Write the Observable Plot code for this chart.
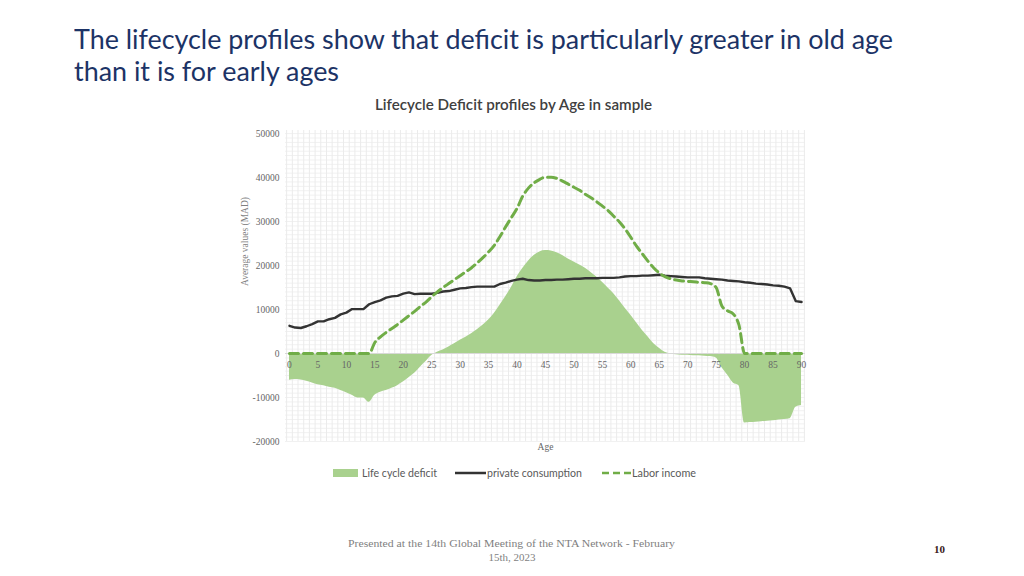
<!DOCTYPE html>
<html><head><meta charset="utf-8">
<script src="https://cdn.jsdelivr.net/npm/d3@7"></script>
<script src="https://cdn.jsdelivr.net/npm/@observablehq/plot@0.6"></script>
<style>
body{margin:0;width:1024px;height:576px;position:relative;background:#fff;overflow:hidden;font-family:Lato,"Open Sans",sans-serif}
.abs{position:absolute;white-space:nowrap;line-height:1}
#chart{position:absolute;left:230px;top:120px}
</style></head><body>
<div class="abs fit" data-w="819" style="left:74px;top:26px;font-size:26px;color:#1c3366">The lifecycle profiles show that deficit is particularly greater in old age</div>
<div class="abs fit" data-w="265" style="left:74px;top:58px;font-size:26px;color:#1c3366">than it is for early ages</div>
<div class="abs fit" data-w="277" style="left:375px;top:97px;font-size:15px;color:#404040;font-weight:600">Lifecycle Deficit profiles by Age in sample</div>
<div id="chart"></div>
<div class="abs" style="left:333px;top:469px;width:25px;height:8px;background:#a9d18e"></div>
<div class="abs fit" data-w="75" style="left:362px;top:467px;font-size:11px;color:#595959">Life cycle deficit</div>
<svg class="abs" style="left:455px;top:468px" width="32" height="10"><line x1="0" y1="5" x2="31" y2="5" stroke="#333" stroke-width="2.5"/></svg>
<div class="abs fit" data-w="95" style="left:487px;top:467px;font-size:11px;color:#595959">private consumption</div>
<svg class="abs" style="left:602px;top:468px" width="32" height="10"><line x1="0" y1="5" x2="30" y2="5" stroke="#70ad47" stroke-width="2.5" stroke-dasharray="7,4"/></svg>
<div class="abs fit" data-w="64" style="left:632px;top:467px;font-size:11px;color:#595959">Labor income</div>
<div class="abs fit" data-w="327" style="left:348px;top:538px;font-size:11px;color:#7f7f7f;font-family:'Liberation Serif',serif">Presented at the 14th Global Meeting of the NTA Network - February</div>
<div class="abs" style="left:0;width:1024px;text-align:center;top:552px;font-size:11px;color:#7f7f7f;font-family:'Liberation Serif',serif">15th, 2023</div>
<div class="abs" style="left:934px;top:544px;font-size:11px;color:#3a1a1a;font-weight:bold;font-family:'Liberation Serif',serif">10</div>
<script>
const ages = d3.range(0, 91);
const consumption = [6300,5900,5800,6200,6700,7300,7300,7800,8100,8900,9300,10100,10100,10100,11200,11700,12100,12700,13000,13100,13600,13900,13500,13600,13600,13600,13800,14100,14200,14500,14800,14900,15100,15200,15200,15200,15200,15800,16100,16500,16800,17000,16700,16600,16600,16700,16700,16800,16800,16900,17000,17000,17100,17100,17100,17200,17200,17200,17300,17500,17600,17600,17700,17700,17800,17900,17700,17600,17500,17400,17300,17300,17300,17100,17000,16900,16800,16600,16500,16400,16200,16100,15900,15800,15700,15500,15400,15200,14800,11900,11700];
const laborIncome = [0,0,0,0,0,0,0,0,0,0,0,0,0,0,0,2500,3800,4800,5700,6600,7600,8600,9600,10700,11700,12900,14000,15000,15900,16800,17700,18600,19500,20600,21800,23100,24600,26600,28800,30900,33000,35800,37600,38800,39600,40100,40100,39800,39200,38500,37800,37100,36200,35400,34500,33500,32500,31200,29900,28300,26400,24400,22700,21000,19500,18300,17500,17000,16700,16500,16400,16300,16200,16100,15900,15000,10800,9700,9000,6500,0,0,0,0,0,0,0,0,0,0,0];
const deficit = [-6100,-5900,-6000,-6300,-6700,-7100,-7300,-7650,-7900,-8400,-8900,-9500,-10100,-10100,-11100,-9500,-8800,-8400,-7900,-7300,-6500,-5500,-4500,-3100,-1800,-450,300,800,1500,2200,3000,3700,4500,5400,6400,7600,9100,11000,12900,15000,17400,19300,21000,22300,23100,23400,23300,22900,22300,21500,20800,20100,19400,18400,17400,16200,14900,13600,12000,10300,8700,7000,5300,3800,2300,1200,300,-100,-300,-400,-400,-500,-500,-600,-700,-1000,-3200,-4900,-6700,-7300,-15800,-15700,-15600,-15500,-15400,-15300,-15100,-15000,-14800,-12200,-11800];
const xTicks = d3.range(0, 91, 5);
const yTicks = d3.range(-20000, 50001, 10000);
const gridX = d3.range(-0.5, 91, 1);
const gridY = d3.range(-20000, 50700, 1000);

const rows = ages.map((a, i) => ({age: a, consumption: consumption[i], labor: laborIncome[i], deficit: deficit[i]}));

const serif = "'Liberation Serif', 'Times New Roman', serif";
const chart = Plot.plot({
  width: 600, height: 345,
  marginLeft: 55, marginRight: 25, marginTop: 10, marginBottom: 24,
  x: {domain: [-0.7, 90.7], axis: null},
  y: {domain: [-20000, 50700], axis: null},
  style: {fontFamily: serif, background: "transparent"},
  marks: [
    Plot.ruleY(gridY, {stroke: "#f1f1f1", strokeWidth: 1}),
    Plot.ruleX(gridX, {stroke: "#ebebeb", strokeWidth: 1}),
    Plot.areaY(rows, {x: "age", y: "deficit", fill: "#a9d18e", curve: "monotone-x"}),
    Plot.ruleY([0], {stroke: "#d9d9d9", strokeWidth: 1}),
    Plot.lineY(rows, {x: "age", y: "consumption", stroke: "#333333", strokeWidth: 2.4}),
    Plot.lineY(rows, {x: "age", y: "labor", stroke: "#70ad47", strokeWidth: 3, strokeDasharray: "9,5", curve: "monotone-x"}),
    Plot.text(xTicks, {x: d => d, y: 0, dy: 11, text: d => String(d), fill: "#666666", fontSize: 9.5}),
    Plot.text(yTicks, {y: d => d, frameAnchor: "left", dx: -6, textAnchor: "end", text: d => String(d), fill: "#666666", fontSize: 9.5}),
    Plot.text(["Average values (MAD)"], {frameAnchor: "left", dx: -41, rotate: -90, text: d => d, fill: "#7f7f7f", fontSize: 9.5}),
    Plot.text(["Age"], {x: 45, frameAnchor: "bottom", dy: 8, text: d => d, fill: "#666666", fontSize: 9.5})
  ]
});
document.getElementById("chart").appendChild(chart);

document.querySelectorAll(".fit").forEach(el => {
  const w = el.getBoundingClientRect().width;
  const t = +el.dataset.w;
  el.style.transformOrigin = "left center";
  el.style.transform = `scaleX(${t / w})`;
});
</script>
</body></html>
